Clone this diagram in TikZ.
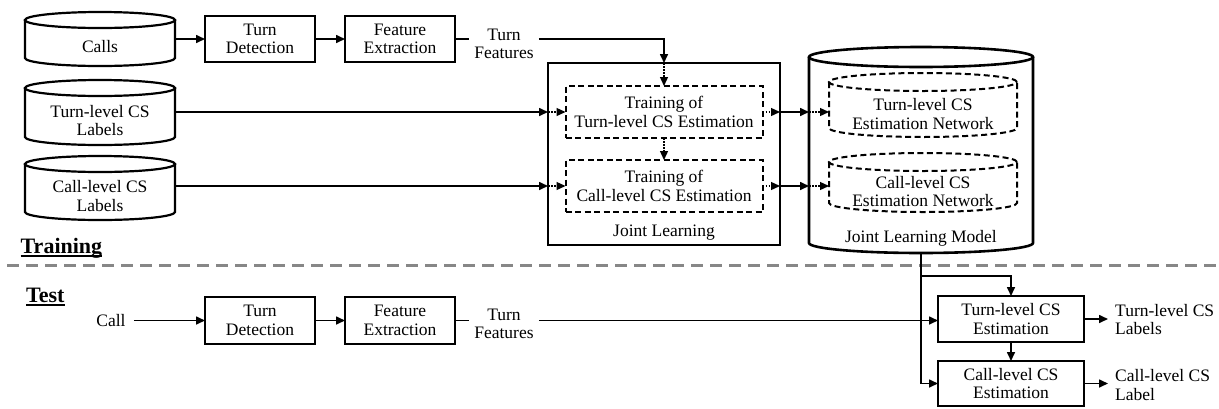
\documentclass[tikz,border=0pt]{standalone}
\usepackage{fontspec}
\setmainfont{Liberation Serif}
\usetikzlibrary{arrows.meta,calc}
\definecolor{sepgray}{RGB}{135,135,135}
\newcommand\cylshape[4]{%
  \draw[#4] ([yshift=#3]#1.north west) -- ([yshift=#3]#1.south west)
     arc[start angle=180,end angle=360,x radius=#2,y radius=#3] -- ([yshift=#3]#1.north east);
  \draw[#4] ([yshift=#3]#1.north) ellipse[x radius=#2,y radius=#3];
}
\tikzset{
  box/.style={draw, line width=2.2pt, align=center, inner sep=0pt, outer sep=0pt},
  dbox/.style={draw, line width=2pt, dash pattern=on 6pt off 3.5pt, align=center, inner sep=0pt, outer sep=0pt},
  cylbody/.style={align=center, inner sep=0pt, outer sep=0pt},
  plain/.style={align=center, inner sep=0pt},
  cylline/.style={line width=2.2pt},
  cyldash/.style={line width=2pt, dash pattern=on 6pt off 3.5pt},
  conn/.style={line width=1.6pt},
  arr/.style={conn, -{Triangle[length=9pt,width=8pt]}},
  dotarr/.style={line width=1.3pt, dash pattern=on 1.5pt off 1.6pt, -{Triangle[length=9pt,width=8pt]}},
  sepline/.style={draw=sepgray, line width=3pt, dash pattern=on 12pt off 7pt},
  titletext/.style={font=\fontsize{22}{24}\selectfont\bfseries, inner sep=0pt, anchor=base west},
}
\begin{document}
\begin{tikzpicture}[x=1pt, y=-1pt, font=\fontsize{17.5}{18.5}\selectfont]
\useasboundingbox (0,0) rectangle (1219,408);

% ---------- Training ----------
\node[cylbody, minimum width=150pt, minimum height=38pt] (calls) at (100,47) {Calls};
\node[cylbody, minimum width=150pt, minimum height=49pt] (tlab) at (100,120.5) {Turn-level CS\\Labels};
\node[cylbody, minimum width=150pt, minimum height=48pt] (clab) at (100,196) {Call-level CS\\Labels};
\cylshape{calls}{75pt}{8pt}{cylline}
\cylshape{tlab}{75pt}{8pt}{cylline}
\cylshape{clab}{75pt}{8pt}{cylline}

\node[box, minimum width=110pt, minimum height=46pt] (td) at (260,39) {Turn\\Detection};
\node[box, minimum width=110pt, minimum height=46pt] (fe) at (400,39) {Feature\\Extraction};
\node[plain, inner xsep=5pt] (tf) at (504,44) {Turn\\Features};

\node[box, minimum width=232pt, minimum height=182pt] (jl) at (664,154) {};
\node[plain] (jltxt) at (664,233) {Joint Learning};
\node[dbox, minimum width=197pt, minimum height=52pt] (tb1) at (664,112) {Training of\\Turn-level CS Estimation};
\node[dbox, minimum width=197pt, minimum height=52pt] (tb2) at (664,186) {Training of\\Call-level CS Estimation};

\node[cylbody, minimum width=224pt, minimum height=186pt] (jlm) at (921,160) {};
\cylshape{jlm}{112pt}{10pt}{line width=2.6pt}
\node[plain] (jlmtxt) at (921,238) {Joint Learning Model};
\node[cylbody, minimum width=188pt, minimum height=46pt] (dc1) at (923,114) {Turn-level CS\\Estimation Network};
\node[cylbody, minimum width=188pt, minimum height=41pt] (dc2) at (923,191.5) {Call-level CS\\Estimation Network};
\cylshape{dc1}{94pt}{9pt}{cyldash}
\cylshape{dc2}{94pt}{9pt}{cyldash}

\node[titletext] (trn) at (20.5,253) {Training};
\draw[line width=2pt] ([yshift=-2.6pt]trn.base west) -- ([yshift=-2.6pt]trn.base east);

\draw[arr] ([yshift=8pt]calls.east) -- (td.west);
\draw[arr] (td) -- (fe);
\draw[conn] (fe.east) -- (fe.east -| tf.west);
\draw[arr] (fe.east -| tf.east) -| (jl.north);
\draw[dotarr] (jl.north) -- (tb1.north);
\draw[dotarr] (tb1.south) -- (tb2.north);
\draw[arr] (tlab.east |- tb1) -- (jl.west |- tb1);
\draw[dotarr] (jl.west |- tb1) -- (tb1.west);
\draw[arr] (clab.east |- tb2) -- (jl.west |- tb2);
\draw[dotarr] (jl.west |- tb2) -- (tb2.west);
\draw[dotarr] (tb1.east) -- (jl.east |- tb1);
\draw[arr] (jl.east |- tb1) -- (jlm.west |- tb1);
\draw[dotarr] (jlm.west |- tb1) -- (dc1.west |- tb1);
\draw[dotarr] (tb2.east) -- (jl.east |- tb2);
\draw[arr] (jl.east |- tb2) -- (jlm.west |- tb2);
\draw[dotarr] (jlm.west |- tb2) -- (dc2.west |- tb2);

% ---------- separator ----------
\draw[sepline] (7,265) -- (1219,265);

% ---------- Test ----------
\node[titletext] (tst) at (26,302) {Test};
\draw[line width=2pt] ([yshift=-2.6pt]tst.base west) -- ([yshift=-2.6pt]tst.base east);

\node[plain, inner xsep=8pt] (call) at (111,320.5) {Call};
\node[box, minimum width=110pt, minimum height=47pt] (td2) at (260,320.5) {Turn\\Detection};
\node[box, minimum width=110pt, minimum height=47pt] (fe2) at (400,320.5) {Feature\\Extraction};
\node[plain, inner xsep=5pt] (tf2) at (504,324) {Turn\\Features};
\node[box, minimum width=146pt, minimum height=46pt] (tce) at (1011,319) {Turn-level CS\\Estimation};
\node[box, minimum width=146pt, minimum height=45pt] (tcl) at (1011,383.5) {Call-level CS\\Estimation};
\node[plain, align=left, anchor=west, inner xsep=7pt] (o1) at (1108,319.5) {Turn-level CS\\Labels};
\node[plain, align=left, anchor=west, inner xsep=7pt] (o2) at (1108,385) {Call-level CS\\Label};

\draw[arr] (call.east) -- (call.east -| td2.west);
\draw[arr] (td2) -- (fe2);
\draw[conn] (fe2.east) -- (fe2.east -| tf2.west);
\draw[arr] (fe2.east -| tf2.east) -- (fe2.east -| tce.west);
\coordinate (br) at ($(jlm.south)+(0,23)$);
\draw[arr] (jlm.south) |- (tcl.west);
\draw[arr] (br) -| (tce.north);
\draw[arr] (tce) -- (tcl);
\draw[arr] (tce.east) -- (tce.east -| o1.west);
\draw[arr] (tcl.east) -- (tcl.east -| o2.west);
\end{tikzpicture}
\end{document}
